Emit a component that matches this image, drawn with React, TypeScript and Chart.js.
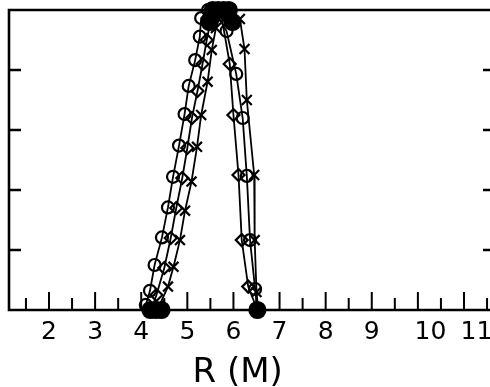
import React, { useEffect, useRef } from 'react';
import { Chart, registerables } from 'chart.js';

Chart.register(...registerables);

// Series (x = R in M, y = relative amount 0..1)
const circleX = [4.10, 4.19, 4.29, 4.45, 4.58, 4.69, 4.82, 4.94, 5.03, 5.17, 5.27, 5.30, 5.45, 5.62, 5.85, 6.06, 6.20, 6.29, 6.36, 6.47, 6.52];
const circleY = [0.017, 0.064, 0.15, 0.242, 0.342, 0.444, 0.548, 0.653, 0.747, 0.833, 0.911, 0.973, 1.0, 0.99, 0.93, 0.787, 0.64, 0.447, 0.233, 0.07, 0.0];

const diamondX = [4.22, 4.33, 4.50, 4.64, 4.76, 4.89, 5.00, 5.10, 5.22, 5.33, 5.42, 5.50, 5.62, 5.74, 5.92, 6.00, 6.11, 6.18, 6.32, 6.52];
const diamondY = [0.0, 0.05, 0.14, 0.24, 0.34, 0.44, 0.54, 0.64, 0.73, 0.82, 0.90, 0.96, 1.0, 0.98, 0.82, 0.65, 0.45, 0.233, 0.078, 0.0];

const crossX = [4.40, 4.58, 4.70, 4.84, 4.95, 5.09, 5.21, 5.30, 5.44, 5.53, 5.62, 5.75, 5.92, 6.14, 6.24, 6.29, 6.45, 6.46, 6.50, 6.54];
const crossY = [0.017, 0.078, 0.144, 0.233, 0.331, 0.428, 0.544, 0.65, 0.761, 0.867, 0.94, 1.0, 1.0, 0.97, 0.87, 0.70, 0.45, 0.233, 0.06, 0.0];

const filledX = [4.20, 4.32, 4.44, 5.55, 5.67, 5.79, 5.90, 5.48, 5.98, 6.52];
const filledY = [0.0, 0.0, 0.0, 1.0, 1.0, 1.0, 1.0, 0.96, 0.96, 0.0];

const xTickValues = [2, 3, 4, 5, 6, 7, 8, 9, 10, 11];
const xTickLabels = ['2', '3', '4', '5', '6', '7', '8', '9', '10', '11'];
const xMinorTicks = [1.5, 2.5, 3.5, 4.5, 5.5, 6.5, 7.5, 8.5, 9.5, 10.5, 11.5];
const yTicks = [0.2, 0.4, 0.6, 0.8];
const xTitle = 'R (M)';

const X_MIN = 1.1325;
const X_MAX = 11.564;

const pts = (xs: number[], ys: number[]) => xs.map((x, i) => ({ x, y: ys[i] }));

export default function App() {
  const ref = useRef<HTMLCanvasElement>(null);

  useEffect(() => {
    document.body.style.margin = '0';
    document.body.style.background = '#fff';
    const canvas = ref.current;
    if (!canvas) return;

    const framePlugin = {
      id: 'frame',
      beforeDatasetsDraw(chart: any) {
        const { ctx, chartArea, scales } = chart;
        const { left, right, top, bottom } = chartArea;
        const x = scales.x;
        const y = scales.y;
        ctx.save();
        ctx.strokeStyle = '#000';
        ctx.lineWidth = 2.6;
        ctx.beginPath();
        ctx.moveTo(right, top);
        ctx.lineTo(left, top);
        ctx.lineTo(left, bottom);
        ctx.lineTo(right, bottom);
        ctx.stroke();
        ctx.lineWidth = 2;
        ctx.beginPath();
        xTickValues.forEach((v) => {
          const px = x.getPixelForValue(v);
          ctx.moveTo(px, bottom);
          ctx.lineTo(px, bottom - 18);
        });
        xMinorTicks.forEach((v) => {
          const px = x.getPixelForValue(v);
          ctx.moveTo(px, bottom);
          ctx.lineTo(px, bottom - 12);
        });
        ctx.stroke();
        ctx.lineWidth = 2.6;
        ctx.beginPath();
        yTicks.forEach((v) => {
          const py = y.getPixelForValue(v);
          ctx.moveTo(left, py);
          ctx.lineTo(left + 12, py);
          ctx.moveTo(right, py);
          ctx.lineTo(right - 7, py);
        });
        ctx.stroke();
        ctx.restore();
      },
    };

    const common = {
      showLine: true,
      borderColor: '#000',
      borderWidth: 1.8,
      pointBorderColor: '#000',
      pointBorderWidth: 2.2,
      pointBackgroundColor: 'rgba(255,255,255,0)',
      clip: false as any,
      tension: 0,
    };

    const chart = new Chart(canvas, {
      type: 'scatter',
      data: {
        datasets: [
          { ...common, label: 'filled', data: pts(filledX, filledY), showLine: false, pointStyle: 'circle', pointRadius: 8, pointBackgroundColor: '#000' },
          { ...common, label: 'circle', data: pts(circleX, circleY), pointStyle: 'circle', pointRadius: 6 },
          { ...common, label: 'diamond', data: pts(diamondX, diamondY), pointStyle: 'rectRot', pointRadius: 6 },
          { ...common, label: 'cross', data: pts(crossX, crossY), pointStyle: 'crossRot', pointRadius: 7 },
        ],
      },
      options: {
        animation: false,
        responsive: true,
        maintainAspectRatio: false,
        devicePixelRatio: 1,
        layout: { autoPadding: false, padding: { top: 10, right: 0, left: 0, bottom: 0 } },
        plugins: { legend: { display: false }, tooltip: { enabled: false }, title: { display: false } },
        scales: {
          x: {
            type: 'linear',
            min: X_MIN,
            max: X_MAX,
            grid: { display: false, drawTicks: false },
            border: { display: false },
            afterBuildTicks: (scale: any) => {
              scale.ticks = xTickValues.map((v) => ({ value: v }));
            },
            afterFit: (scale: any) => {
              scale.height = 77;
              scale.paddingLeft = 0;
              scale.paddingRight = 0;
            },
            ticks: {
              autoSkip: false,
              maxRotation: 0,
              padding: 7,
              color: '#000',
              font: { family: 'DejaVu Sans', size: 25 },
              callback: (_v: any, i: number) => {
                const l = xTickLabels[i];
                return l.length > 1 ? '\u2002\u2002' + l : l;
              },
            },
            title: {
              display: true,
              text: xTitle + '\u2002\u2009',
              color: '#000',
              font: { family: 'DejaVu Sans', size: 34, lineHeight: 0.82 },
              padding: 0,
            },
          },
          y: {
            type: 'linear',
            min: 0,
            max: 1,
            grid: { display: false, drawTicks: false },
            border: { display: false },
            ticks: { display: false },
            afterFit: (scale: any) => {
              scale.width = 9;
            },
          },
        },
      },
      plugins: [framePlugin],
    });

    return () => chart.destroy();
  }, []);

  return (
    <div style={{ width: 490, height: 387, position: 'relative' }}>
      <canvas ref={ref} />
    </div>
  );
}
